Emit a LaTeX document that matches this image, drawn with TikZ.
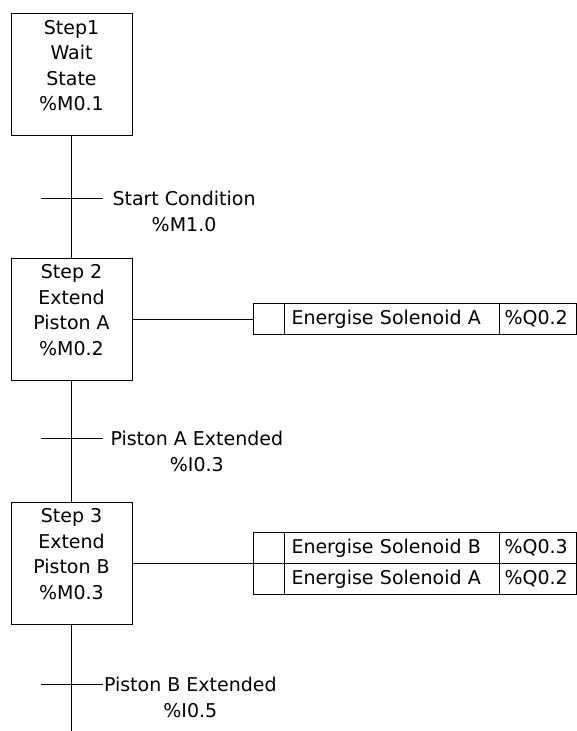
\documentclass[tikz,border=0pt]{standalone}
\usepackage{fontspec}
\setmainfont{DejaVu Sans}
\usetikzlibrary{positioning}

\begin{document}
\begin{tikzpicture}[x=1pt, y=-1pt, line width=1pt,
  every node/.style={font=\fontsize{19}{25.5}\selectfont},
  stepbox/.style={draw, minimum width=121pt, minimum height=122pt, inner sep=0pt},
  steptext/.style={align=center, yshift=9pt},
  trans/.style={minimum width=62pt, minimum height=0pt, inner sep=0pt, outer sep=0pt},
  translabel/.style={align=center, inner sep=0pt},
  cell/.style={draw, minimum height=31pt, inner sep=0pt, outer sep=0pt, text height=14pt, text depth=3pt},
  qualcell/.style={cell, minimum width=31pt},
  actcell/.style={cell, text width=200pt, inner xsep=7.5pt, align=left},
  varcell/.style={cell, text width=66pt, inner xsep=5.5pt, align=left}]
  \path[use as bounding box, fill=white] (0,0) rectangle (577,731);
  % Step 1: wait state
  \node[stepbox] (s1) at (71.5,74.5) {};
  \node[steptext] (s1text) at (s1) {Step1\\Wait\\State\\\%M0.1};
  % Transition: start condition
  \node[trans] (t1) at (71.5,198) {};
  \draw (t1.west) -- (t1.east);
  \node[translabel, below right=-7pt and 9.5pt of t1.east] (t1text) {Start Condition\\\%M1.0};
  % Step 2: extend piston A
  \node[stepbox] (s2) at (71.5,319) {};
  \node[steptext] (s2text) at (s2) {Step 2\\Extend\\Piston A\\\%M0.2};
  \node[qualcell] (q2) at (268.5,319) {};
  \node[actcell, right=0pt of q2] (a2) {Energise Solenoid A};
  \node[varcell, right=0pt of a2] (v2) {\%Q0.2};
  \draw (s2) -- (q2);
  % Transition: piston A extended
  \node[trans] (t2) at (71.5,438) {};
  \draw (t2.west) -- (t2.east);
  \node[translabel, below right=-7pt and 7.5pt of t2.east] (t2text) {Piston A Extended\\\%I0.3};
  % Step 3: extend piston B
  \node[stepbox] (s3) at (71.5,563) {};
  \node[steptext] (s3text) at (s3) {Step 3\\Extend\\Piston B\\\%M0.3};
  \node[qualcell] (q3a) at (268.5,547.5) {};
  \node[actcell, right=0pt of q3a] (a3a) {Energise Solenoid B};
  \node[varcell, right=0pt of a3a] (v3a) {\%Q0.3};
  \node[qualcell, below=0pt of q3a] (q3b) {};
  \node[actcell, right=0pt of q3b] (a3b) {Energise Solenoid A};
  \node[varcell, right=0pt of a3b] (v3b) {\%Q0.2};
  \draw (s3) -- (q3a.south west);
  % Transition: piston B extended
  \node[trans] (t3) at (71.5,684) {};
  \draw (t3.west) -- (t3.east);
  \node[translabel, below right=-7pt and 1pt of t3.east] (t3text) {Piston B Extended\\\%I0.5};
  \coordinate (end) at (71.5,731);
  % main sequence line
  \draw (s1) -- (t1) -- (s2) -- (t2) -- (s3) -- (t3) -- (end);
\end{tikzpicture}
\end{document}
